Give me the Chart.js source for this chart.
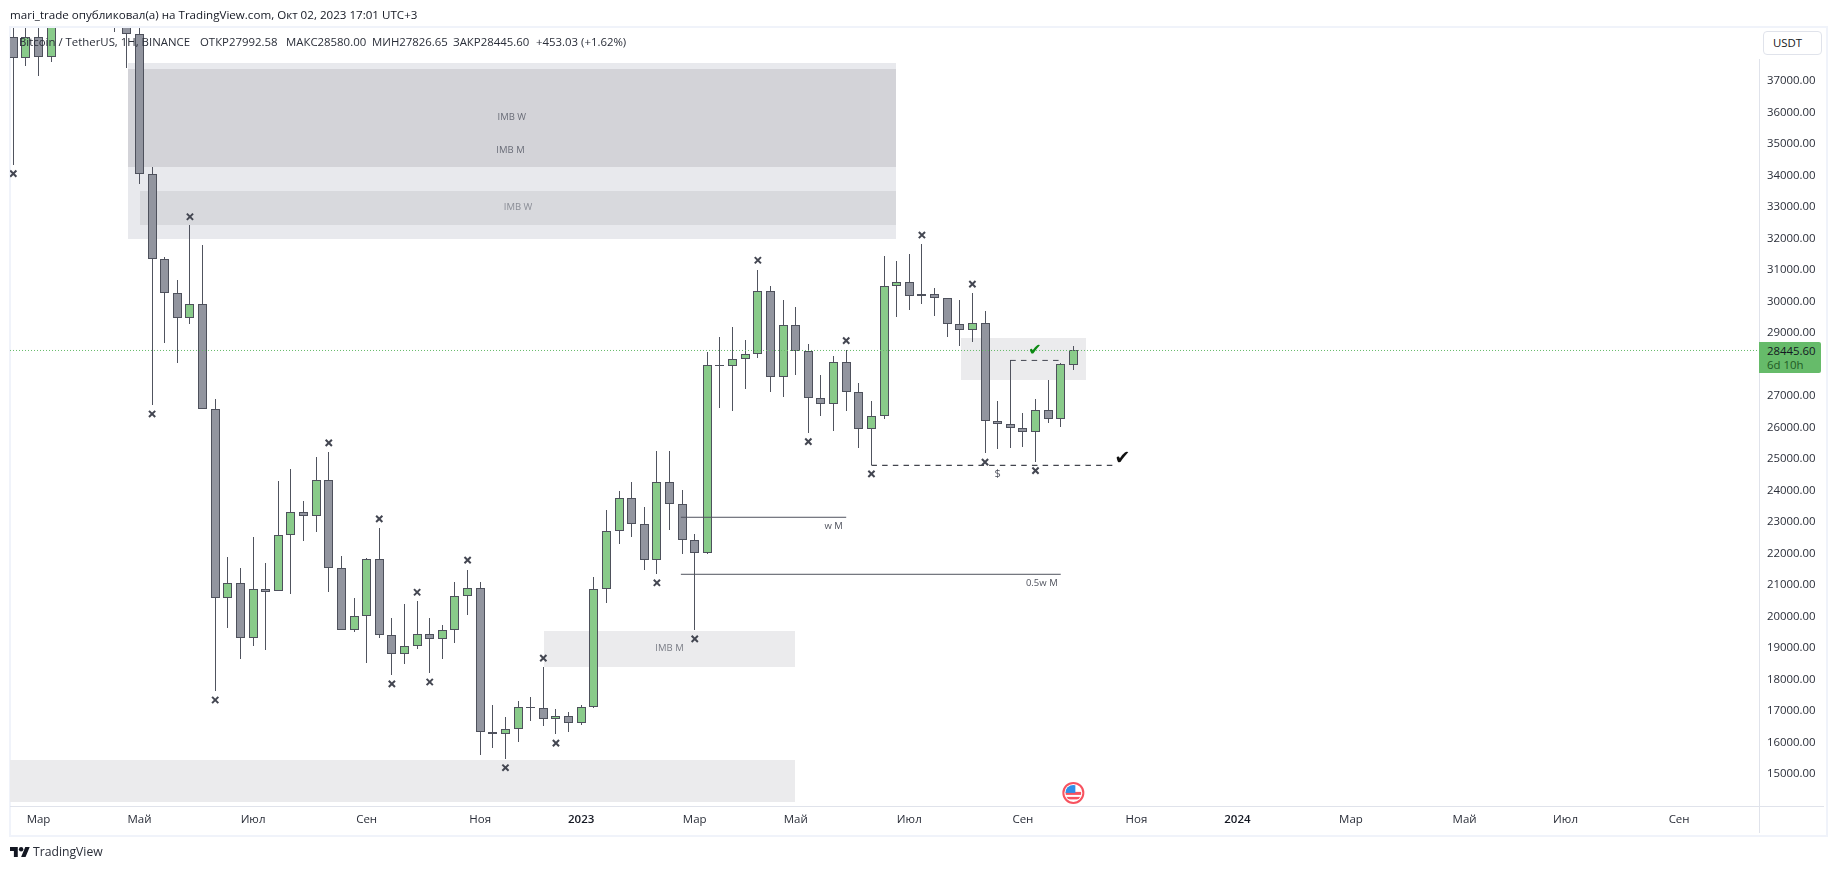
<!DOCTYPE html>
<html lang="ru"><head><meta charset="utf-8">
<title>BTC/USDT</title>
<script src="https://cdn.jsdelivr.net/npm/chart.js@4"></script>
<style>
html,body{margin:0;padding:0;background:#fff;overflow:hidden;width:1835px;height:869px}
body{position:relative;font-family:"Open Sans",sans-serif;color:#131722}
.abs{position:absolute;white-space:nowrap}
canvas{position:absolute;left:0;top:0}
.lg{font-size:11.4px;line-height:16px;top:34px;color:#2a2e39;z-index:3}
</style></head><body>
<div class="abs" style="left:9px;top:26px;width:1815px;height:807px;border:2px solid #f0f3fa"></div>
<div class="abs" style="left:1759px;top:59px;width:1px;height:774px;background:#e0e3eb"></div>
<div class="abs" style="left:10px;top:806px;width:1814px;height:1px;background:#e0e3eb"></div>
<canvas id="c" width="1835" height="869"></canvas>
<div class="abs" style="left:10px;top:6px;font-size:11.6px;line-height:18px;color:#131722">mari_trade опубликовал(а) на TradingView.com, Окт 02, 2023 17:01 UTC+3</div>
<div class="abs lg" style="left:19px">Bitcoin / TetherUS, 1Н, BINANCE</div>
<div class="abs lg" style="left:200px">ОТКР27992.58</div>
<div class="abs lg" style="left:286px">МАКС28580.00</div>
<div class="abs lg" style="left:372px">МИН27826.65</div>
<div class="abs lg" style="left:453px">ЗАКР28445.60</div>
<div class="abs lg" style="left:536px">+453.03 (+1.62%)</div>
<div class="abs" style="left:1763px;top:31px;width:57px;height:22px;border:1px solid #e0e3eb;border-radius:4px;background:#fff;font-size:11.4px;line-height:22px;text-indent:9px;color:#131722">USDT</div>
<div class="abs" style="left:1759px;top:342px;width:62px;height:31px;background:#66bb6a;border-radius:0 2px 2px 0;z-index:3">
 <div class="abs" style="left:8px;top:1px;font-size:11.4px;line-height:15px;color:#131722">28445.60</div>
 <div class="abs" style="left:8px;top:15px;font-size:11.4px;line-height:15px;color:#1f5a25">6d 10h</div>
</div>
<svg class="abs" style="left:10px;top:845px" width="20" height="14" viewBox="0 4 36 18"><path fill="#131722" d="M14 22H7V11H0V4h14v18zM28 22h-8l7.5-18h8L28 22z"/><circle fill="#131722" cx="20" cy="8" r="4"/></svg>
<div class="abs" style="left:33px;top:843px;font-size:12.2px;line-height:18px;color:#2a2e39">TradingView</div>
<script>
// Weekly candles; index 0 = week of 21 Feb 2022, index 84 = week of 2 Oct 2023
const opens=[38390,37720,38410,37770,41200,44500,45800,42150,39700,39450,
38490,34040,31340,30280,29470,29910,26580,20580,21050,19310,
20860,20800,22580,23310,23180,24320,21530,19560,20020,21820,
19400,18800,19050,19430,19280,19560,20640,20900,16320,16280,
16420,17120,17090,16740,16830,16610,17120,20860,22700,23750,
22930,21780,24260,23560,22420,22010,27970,27950,28170,28320,
30320,27590,29240,28420,26930,26740,28070,27120,25940,26360,
30480,30610,30170,30230,30100,29280,29090,29310,26200,26100,
25970,25850,26550,26260,27992.58];
const closes=[37720,38410,37770,41200,44500,45800,42150,39700,39450,38490,
34040,31340,30280,29470,29910,26580,20580,21050,19310,20860,
20790,22580,23310,23180,24320,21530,19560,20020,21820,19400,
18800,19050,19430,19280,19560,20640,20900,16320,16280,16420,
17120,17090,16740,16830,16610,17120,20860,22700,23750,22930,
21780,24260,23560,22420,22010,27970,27950,28170,28320,30320,
27590,29240,28420,26930,26740,28070,27120,25940,26360,30480,
30610,30170,30230,30100,29280,29090,29310,26200,26100,25970,
25850,26550,26260,28010,28445.6];
const highs=[39700,39500,39400,42500,44800,48200,47400,42400,42900,40800,
40000,34260,31400,30680,32430,31790,26900,21890,21540,22520,
21700,24300,24680,23670,25060,25220,21920,20580,21860,22810,
19950,20400,20490,19950,19730,21100,21480,21100,17190,16810,
17320,17440,18390,17060,16960,17190,21250,23380,23980,24270,
23480,25250,25250,24010,22610,28400,28870,29190,28780,31000,
30490,30050,29830,28650,27670,28270,28460,27410,26840,31440,
31290,31510,31830,30420,30100,30050,30270,29690,26840,28130,
26450,26900,27500,28060,28580];
const lows=[34330,37490,37170,37590,40500,44400,41900,39200,38550,37420,
33740,26710,28690,28060,29300,26580,17650,19640,18650,19070,
18940,20800,20720,22410,22690,20790,19560,19500,18530,19330,
18150,18500,18980,18220,18650,19170,20060,15610,15840,15490,
16030,16690,16530,16280,16340,16570,17100,20440,22310,22530,
21490,21360,22760,21990,19570,22000,26630,26530,27230,28200,
27140,26980,27680,25840,26370,25900,26530,25360,24800,26280,
29520,29740,29930,29550,28880,28600,28720,25200,25330,25360,
25390,24910,26150,26030,27826.65];
// cross markers placed on the chart: [candle index, price]
const crossMarks=[[0,34060],[14,32690],[11,26430],[25,25510],[29,23100],[32,20770],[36,21790],[51,21070],
[16,17350],[30,17860],[33,17920],[39,15200],[42,18680],[43,15980],[54,19290],
[59,31310],[63,25550],[66,28760],[68,24530],[72,32110],[76,30550],[77,24900],[81,24630]];
// shaded zones: [from index, to index, top price, bottom price, colour]
const zones=[[9.09,69.95,37570,31980,'#e8e9ed'],[9.09,69.95,37380,34270,'#d3d3d8'],[10.04,69.95,33510,32430,'#d8d9dd'],
[42.05,61.94,19540,18400,'#ebebed'],[-0.26,61.94,15440,14110,'#ebebed'],[75.1,85,28840,27510,'#ebebed']];
// text notes: [index, price, text, colour]
const notes=[[39.5,35860,'IMB W','#6a6d78'],[39.4,34790,'IMB M','#6a6d78'],[40,32990,'IMB W','#8a8d96'],
[52,18980,'IMB M','#7a7d86'],[65,22860,'w M','#50535e'],[81.5,21050,'0.5w M','#50535e'],[78,24530,'$','#50535e']];
const lineW=[[52.9,23150],[66,23150]];
const lineHalf=[[52.9,21340],[83,21340]];
const dashLow=[[68,24800],[87.5,24800]];
const dashHigh=[[79,28130],[83,28130]];
const lastPrice=28445.6;
const priceLine=[[-0.26,lastPrice],[138.33,lastPrice]];
const tickIndex=[2,10,19,28,37,45,54,62,71,80,89,97,106,115,123,132];
const tickText=['Мар','Май','Июл','Сен','Ноя','2023','Мар','Май','Июл','Сен','Ноя','2024','Мар','Май','Июл','Сен'];
const priceTicks=[15000,16000,17000,18000,19000,20000,21000,22000,23000,24000,25000,26000,27000,29000,30000,31000,32000,33000,34000,35000,36000,37000];
const xMin=-0.26,xMax=138.33,yMin=13984,yMax=38683;
const checks=[[87.9,25010,'#111','19px'],[80.95,28440,'#0b8a12','16px']];
const eventAt=[84,14400];

const FONT='"Open Sans",sans-serif';
const GREEN='#89cb8a',GRAY='#92959f',EDGE='#4e515c',WICK='#50535e';
const idx=opens.map((_,i)=>i);
const asXY=a=>a.map(p=>({x:p[0],y:p[1]}));
const isYear=c=>c.tick&&/^\d/.test(tickText[tickIndex.indexOf(c.tick.value)]||'');

const overlay={id:'overlay',
 afterDatasetsUpdate(chart){
  chart.data.datasets.forEach((d,di)=>{
   if(d.type!=='bar')return;
   chart.getDatasetMeta(di).data.forEach(el=>{
    el.x=Math.floor(el.x)+0.5;
    let a=Math.round(el.y),b=Math.round(el.base);
    if(a===b)b=a+1;
    el.y=a;el.base=b;
   });
  });
 },
 beforeDatasetsDraw(chart){
  const {ctx,scales:{x,y},chartArea:A}=chart;
  ctx.save();ctx.beginPath();ctx.rect(A.left,A.top,A.right-A.left,A.bottom-A.top);ctx.clip();
  zones.forEach(z=>{
   const l=x.getPixelForValue(z[0]),r=x.getPixelForValue(z[1]),t=y.getPixelForValue(z[2]),b=y.getPixelForValue(z[3]);
   ctx.fillStyle=z[4];ctx.fillRect(Math.round(l),Math.round(t),Math.round(r-l),Math.round(b-t));
  });
  ctx.restore();
 },
 afterDatasetsDraw(chart){
  const {ctx,scales:{x,y}}=chart;
  ctx.save();
  ctx.textAlign='center';ctx.textBaseline='middle';
  notes.forEach(n=>{
   ctx.font=(n[2]==='$'?'11px ':'9.5px ')+FONT;ctx.fillStyle=n[3];
   ctx.fillText(n[2],x.getPixelForValue(n[0]),y.getPixelForValue(n[1]));
  });
  checks.forEach(c=>{
   ctx.font=c[3]+' "DejaVu Sans"';ctx.fillStyle=c[2];
   ctx.fillText('✔',x.getPixelForValue(c[0]),y.getPixelForValue(c[1]));
  });
  // economic-event badge
  const ex=x.getPixelForValue(eventAt[0]),ey=y.getPixelForValue(eventAt[1]);
  ctx.beginPath();ctx.arc(ex,ey,10,0,Math.PI*2);ctx.fillStyle='#fff';ctx.fill();
  ctx.save();ctx.beginPath();ctx.arc(ex,ey,8,0,Math.PI*2);ctx.clip();
  ctx.fillStyle='#f7525f';ctx.fillRect(ex-8,ey-1,16,3);ctx.fillRect(ex-8,ey+4,16,2.5);
  ctx.fillStyle='#2f8fe8';ctx.fillRect(ex-8,ey-8,10,8);
  ctx.restore();
  ctx.beginPath();ctx.arc(ex,ey,10,0,Math.PI*2);ctx.lineWidth=2;ctx.strokeStyle='#f7525f';ctx.stroke();
  ctx.restore();
 }
};

new Chart(document.getElementById('c'),{
 type:'bar',
 data:{datasets:[
  {type:'bar',label:'wicks',order:6,grouped:false,barThickness:1,backgroundColor:WICK,borderWidth:0,inflateAmount:0,
   data:idx.map(i=>({x:i,y:[lows[i],highs[i]]}))},
  {type:'bar',label:'bodies',order:5,grouped:false,barThickness:9,borderColor:EDGE,borderWidth:1,borderSkipped:false,inflateAmount:0,
   backgroundColor:idx.map(i=>closes[i]>=opens[i]?GREEN:GRAY),
   data:idx.map(i=>({x:i,y:[opens[i],closes[i]]}))},
  {type:'line',label:'w M',order:4,data:asXY(lineW),borderColor:WICK,borderWidth:1,pointRadius:0},
  {type:'line',label:'0.5w M',order:4,data:asXY(lineHalf),borderColor:WICK,borderWidth:1,pointRadius:0},
  {type:'line',label:'low sweep',order:3,data:asXY(dashLow),borderColor:'#131722',borderWidth:1,borderDash:[5.5,5.2],pointRadius:0},
  {type:'line',label:'target',order:3,data:asXY(dashHigh),borderColor:'#434651',borderWidth:1,borderDash:[5.5,5.2],pointRadius:0},
  {type:'line',label:'last',order:2,data:asXY(priceLine),borderColor:'#66bb6a',borderWidth:1,borderDash:[1,2],pointRadius:0},
  {type:'scatter',label:'marks',order:1,data:asXY(crossMarks),pointStyle:'crossRot',pointRadius:4.4,pointBorderColor:'#434651',pointBorderWidth:2,showLine:false}
 ]},
 options:{
  responsive:false,animation:false,devicePixelRatio:1,
  layout:{padding:{left:10,top:28,right:0,bottom:0}},
  plugins:{legend:{display:false},tooltip:{enabled:false},title:{display:false}},
  events:[],
  scales:{
   x:{type:'linear',position:'bottom',min:xMin,max:xMax,offset:false,
    grid:{display:false,drawTicks:false},border:{display:false},
    afterBuildTicks(s){s.ticks=tickIndex.map(v=>({value:v}));},
    afterFit(s){s.height=63;},
    ticks:{autoSkip:false,maxRotation:0,minRotation:0,padding:7,includeBounds:false,
     callback:v=>tickText[tickIndex.indexOf(v)],
     color:c=>isYear(c)?'#131722':'#2a2e39',
     font:c=>({family:FONT,size:11.5,weight:isYear(c)?'600':'400'})}},
   y:{type:'linear',position:'right',min:yMin,max:yMax,
    grid:{display:false,drawTicks:false},border:{display:false},
    afterBuildTicks(s){s.ticks=priceTicks.map(v=>({value:v}));},
    afterFit(s){s.width=76;},
    ticks:{autoSkip:false,crossAlign:'near',padding:8,color:'#2a2e39',includeBounds:false,
     font:{family:FONT,size:11.4},callback:v=>v.toFixed(2)}}
  }
 },
 plugins:[overlay]
});
</script>
</body></html>
